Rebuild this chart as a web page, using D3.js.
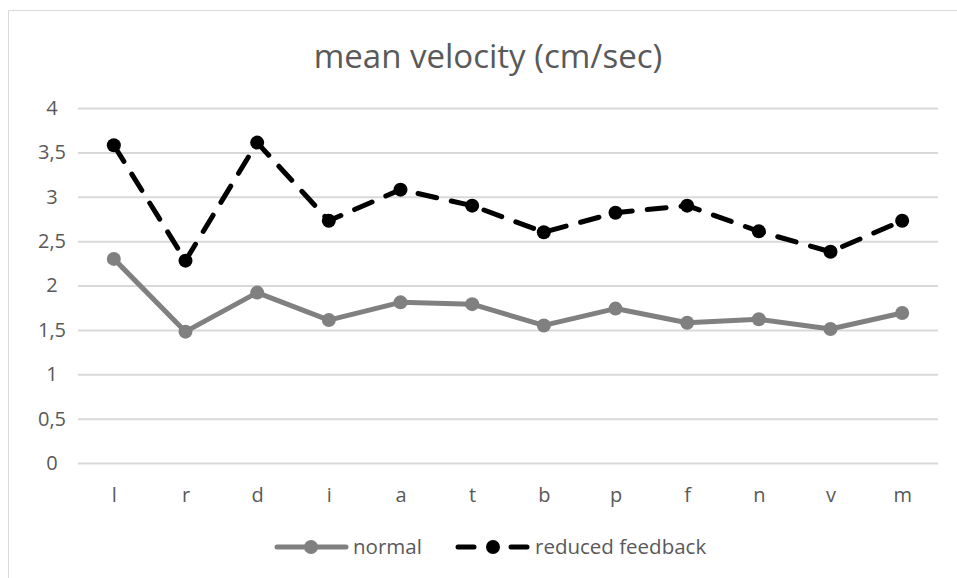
<!DOCTYPE html>
<html><head><meta charset="utf-8">
<script src="https://cdn.jsdelivr.net/npm/d3@7"></script>
<style>body{margin:0;background:#fff}svg{display:block}text{font-family:"Open Sans",Lato,sans-serif}</style>
</head><body>
<svg id="c" width="957" height="578"></svg>
<script>
const categories = ["l","r","d","i","a","t","b","p","f","n","v","m"];
const normal = [2.30,1.48,1.92,1.61,1.81,1.79,1.55,1.74,1.58,1.62,1.51,1.69];
const reduced = [3.58,2.28,3.61,2.73,3.08,2.90,2.60,2.82,2.90,2.61,2.38,2.73];
const yTicks = [0,0.5,1,1.5,2,2.5,3,3.5,4];
const seriesNames = ["normal","reduced feedback"];

const svg = d3.select("#c");
svg.append("path").attr("d","M8.5,578 L8.5,10.5 L957,10.5").attr("fill","none").attr("stroke","#d9d9d9").attr("stroke-width",1);

const x = d3.scalePoint().domain(categories).range([78,938]).padding(0.5);
const y = d3.scaleLinear().domain([0,4]).range([463,108]);

svg.append("text").attr("x",488).attr("y",68).attr("text-anchor","middle")
  .attr("font-size",33).attr("fill","#595959").text("mean velocity (cm/sec)");

const yAxis = d3.axisLeft(y).tickValues(yTicks).tickSize(-(938-78)).tickPadding(22)
  .tickFormat(d => String(d).replace(".", ","));
const gy = svg.append("g").attr("transform","translate(78,0)").call(yAxis);
gy.select(".domain").remove();
gy.attr("font-size",20).attr("font-family",null);
gy.selectAll(".tick line").attr("stroke","#d9d9d9").attr("stroke-width",2);
gy.selectAll(".tick text").attr("fill","#595959").attr("text-anchor","middle").attr("dx",-4);

const xAxis = d3.axisBottom(x).tickSize(0).tickPadding(25);
const gx = svg.append("g").attr("transform","translate(0,463)").call(xAxis);
gx.select(".domain").remove();
gx.attr("font-size",20).attr("font-family",null);
gx.selectAll(".tick text").attr("fill","#595959");

const line = d3.line().x((d,i)=>x(categories[i])).y(d=>y(d));

svg.append("path").datum(normal).attr("d",line).attr("fill","none")
  .attr("stroke","#808080").attr("stroke-width",5).attr("stroke-linejoin","round");
svg.append("g").selectAll("circle").data(normal).join("circle")
  .attr("cx",(d,i)=>x(categories[i])).attr("cy",d=>y(d)).attr("r",7).attr("fill","#808080");

svg.append("path").datum(reduced).attr("d",line).attr("fill","none")
  .attr("stroke","#000").attr("stroke-width",5).attr("stroke-dasharray","19,15").attr("stroke-linecap","round");
svg.append("g").selectAll("circle").data(reduced).join("circle")
  .attr("cx",(d,i)=>x(categories[i])).attr("cy",d=>y(d)).attr("r",7).attr("fill","#000");

const leg = svg.append("g");
const ly = 547;
leg.append("line").attr("x1",277).attr("x2",346).attr("y1",ly).attr("y2",ly).attr("stroke","#808080").attr("stroke-width",5).attr("stroke-linecap","round");
leg.append("circle").attr("cx",311).attr("cy",ly).attr("r",7).attr("fill","#808080");
leg.append("text").attr("x",353).attr("y",ly+7).attr("font-size",20.5).attr("fill","#595959").text(seriesNames[0]);
leg.append("line").attr("x1",458).attr("x2",474).attr("y1",ly).attr("y2",ly).attr("stroke","#000").attr("stroke-width",5).attr("stroke-linecap","round");
leg.append("line").attr("x1",511).attr("x2",527).attr("y1",ly).attr("y2",ly).attr("stroke","#000").attr("stroke-width",5).attr("stroke-linecap","round");
leg.append("circle").attr("cx",493).attr("cy",ly).attr("r",7).attr("fill","#000");
leg.append("text").attr("x",535).attr("y",ly+7).attr("font-size",20.5).attr("fill","#595959").text(seriesNames[1]);
</script>
</body></html>
